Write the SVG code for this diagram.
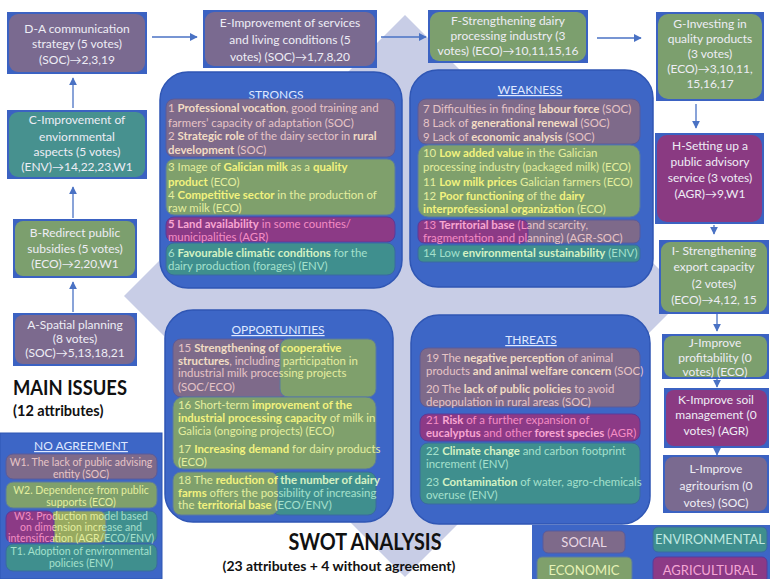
<svg xmlns="http://www.w3.org/2000/svg" width="770" height="579" viewBox="0 0 770 579">
<style>
.t{font-family:Lato,Carlito,"Liberation Sans",sans-serif;font-size:11.4px}
.s{font-size:10.5px}
.b{font-weight:bold}
.n{font-family:Lato,Carlito,"Liberation Sans",sans-serif;font-size:12px;text-anchor:middle;fill:#eeedf5}
.frame{fill:#3b62c2}
.soc{fill:#7e6a8a;stroke:#5a5a9a;stroke-width:1}
.eco{fill:#7fa06c;stroke:#5a7aa0;stroke-width:1}
.agr{fill:#8c3a86;stroke:#5a3a9a;stroke-width:1}
.env{fill:#3f8f8e;stroke:#3a6aa0;stroke-width:1}
.ts{fill:#e6c4c6}.ts .b{fill:#f2dcc4}
.te{fill:#e4ee9e}.te .b{fill:#f2f27e}
.ta{fill:#f48cc4}.ta .b{fill:#f8a6d2}
.tv{fill:#a4e0cc}.tv .b{fill:#d4f2c4}
.panel{fill:#3d66c6;stroke:#2f56b4;stroke-width:1.5}
.head{font-family:Lato,Carlito,"Liberation Sans",sans-serif;font-size:12px;fill:#dfe8ff;text-anchor:middle}
.u{text-decoration:underline}
.conn line{stroke:#4a72c4;stroke-width:1.3}
.leg{font-family:Lato,Carlito,"Liberation Sans",sans-serif;font-size:13px;text-anchor:middle}
.big{font-family:Lato,Carlito,"Liberation Sans",sans-serif;font-weight:bold;fill:#111}
</style>
<defs>
<marker id="ah" viewBox="0 0 10 10" refX="9" refY="5" markerWidth="6" markerHeight="6" orient="auto">
<path d="M0,0 L10,5 L0,10 z" fill="#4a72c4"/>
</marker>
<linearGradient id="g13" gradientUnits="userSpaceOnUse" x1="0" y1="0" x2="770" y2="0">
<stop offset="0.6857" stop-color="#f48cc4"/><stop offset="0.6857" stop-color="#e6c4c6"/>
</linearGradient>
<linearGradient id="g13b" gradientUnits="userSpaceOnUse" x1="0" y1="0" x2="770" y2="0">
<stop offset="0.6857" stop-color="#f8a6d2"/><stop offset="0.6857" stop-color="#f2dcc4"/>
</linearGradient>
<linearGradient id="g15" gradientUnits="userSpaceOnUse" x1="0" y1="0" x2="770" y2="0">
<stop offset="0.3636" stop-color="#e6c4c6"/><stop offset="0.3636" stop-color="#e4ee9e"/>
</linearGradient>
<linearGradient id="g15b" gradientUnits="userSpaceOnUse" x1="0" y1="0" x2="770" y2="0">
<stop offset="0.3636" stop-color="#f2dcc4"/><stop offset="0.3636" stop-color="#f2f27e"/>
</linearGradient>
<linearGradient id="g18" gradientUnits="userSpaceOnUse" x1="0" y1="0" x2="770" y2="0">
<stop offset="0.361" stop-color="#e4ee9e"/><stop offset="0.361" stop-color="#a4e0cc"/>
</linearGradient>
<linearGradient id="g18b" gradientUnits="userSpaceOnUse" x1="0" y1="0" x2="770" y2="0">
<stop offset="0.361" stop-color="#f2f27e"/><stop offset="0.361" stop-color="#d4f2c4"/>
</linearGradient>
<linearGradient id="gw3" gradientUnits="userSpaceOnUse" x1="0" y1="0" x2="770" y2="0">
<stop offset="0.0688" stop-color="#f48cc4"/><stop offset="0.0688" stop-color="#e4ee9e"/>
<stop offset="0.1338" stop-color="#e4ee9e"/><stop offset="0.1338" stop-color="#a4e0cc"/>
</linearGradient>
</defs>

<rect width="770" height="579" fill="#ffffff"/>
<polygon points="405,15 686,296 405,577 124,296" fill="#c8cde6"/>

<!-- SWOT panels -->
<g id="strongs">
<rect class="panel" x="160" y="72" width="242" height="216" rx="28"/>
<text class="head" x="276" y="99">STRONGS</text>
<rect class="soc" x="166" y="99" width="229" height="58" rx="8"/>
<rect class="eco" x="166" y="159" width="229" height="56" rx="8"/>
<rect class="agr" x="166" y="217" width="229" height="25" rx="8"/>
<rect class="env" x="166" y="243" width="229" height="32" rx="8"/>
<text class="t ts" x="168" y="112">1 <tspan class="b">Professional vocation</tspan>, good training and</text>
<text class="t ts" x="168" y="127">farmers’ capacity of adaptation (SOC)</text>
<text class="t ts" x="168" y="140">2 <tspan class="b">Strategic role</tspan> of the dairy sector in <tspan class="b">rural</tspan></text>
<text class="t ts" x="168" y="154"><tspan class="b">development</tspan> (SOC)</text>
<text class="t te" x="168" y="171">3 Image of <tspan class="b">Galician milk</tspan> as a <tspan class="b">quality</tspan></text>
<text class="t te" x="168" y="186"><tspan class="b">product</tspan> (ECO)</text>
<text class="t te" x="168" y="199">4 <tspan class="b">Competitive sector</tspan> in the production of</text>
<text class="t te" x="168" y="212">raw milk (ECO)</text>
<text class="t ta" x="168" y="228"><tspan class="b">5 Land availability</tspan> in some counties/</text>
<text class="t ta" x="168" y="241">municipalities (AGR)</text>
<text class="t tv" x="168" y="257">6 <tspan class="b">Favourable climatic conditions</tspan> for the</text>
<text class="t tv" x="168" y="270">dairy production (forages) (ENV)</text>
</g>

<g id="weakness">
<rect class="panel" x="410" y="70" width="243" height="217" rx="28"/>
<text class="head u" x="530" y="94">WEAKNESS</text>
<rect class="soc" x="418" y="99" width="222" height="45" rx="8"/>
<rect class="eco" x="418" y="145" width="222" height="72" rx="10"/>
<rect class="soc" x="500" y="220" width="140" height="23" rx="6"/>
<rect class="agr" x="418" y="220" width="110" height="23" rx="6"/>
<rect class="env" x="418" y="245" width="222" height="17" rx="5"/>
<text class="t ts" x="423" y="113">7 Difficulties in finding <tspan class="b">labour force</tspan> (SOC)</text>
<text class="t ts" x="423" y="127">8 Lack of <tspan class="b">generational renewal</tspan> (SOC)</text>
<text class="t ts" x="423" y="141">9 Lack of <tspan class="b">economic analysis</tspan> (SOC)</text>
<text class="t te" x="423" y="157">10 <tspan class="b">Low added value</tspan> in the Galician</text>
<text class="t te" x="423" y="171">processing industry (packaged milk) (ECO)</text>
<text class="t te" x="423" y="186">11 <tspan class="b">Low milk prices</tspan> Galician farmers (ECO)</text>
<text class="t te" x="423" y="200">12 <tspan class="b">Poor functioning</tspan> of the <tspan class="b">dairy</tspan></text>
<text class="t te" x="423" y="213"><tspan class="b">interprofessional organization</tspan> (ECO)</text>
<text class="t" x="423" y="229" fill="url(#g13)">13 <tspan class="b" fill="url(#g13b)">Territorial base</tspan> (Land scarcity,</text>
<text class="t" x="423" y="242" fill="url(#g13)">fragmentation and planning) (AGR-SOC)</text>
<text class="t tv" x="423" y="257">14 Low <tspan class="b">environmental sustainability</tspan> (ENV)</text>
</g>

<g id="opportunities">
<rect class="panel" x="165" y="310" width="228" height="212" rx="28"/>
<text class="head u" x="278" y="334">OPPORTUNITIES</text>
<rect class="soc" x="173" y="339" width="115" height="58" rx="8"/>
<rect class="eco" x="280" y="339" width="96" height="58" rx="8"/>
<rect class="eco" x="173" y="397" width="203" height="72" rx="10"/>
<rect class="env" x="272" y="472" width="104" height="43" rx="8"/>
<rect class="eco" x="173" y="472" width="105" height="43" rx="8"/>
<text class="t" x="178" y="352" fill="url(#g15)">15 <tspan class="b" fill="url(#g15b)">Strengthening of cooperative</tspan></text>
<text class="t" x="178" y="365" fill="url(#g15)"><tspan class="b" fill="url(#g15b)">structures</tspan>, including participation in</text>
<text class="t" x="178" y="377" fill="url(#g15)">industrial milk processing projects</text>
<text class="t" x="178" y="391" fill="url(#g15)">(SOC/ECO)</text>
<text class="t te" x="178" y="409">16 Short-term <tspan class="b">improvement of the</tspan></text>
<text class="t te" x="178" y="422"><tspan class="b">industrial processing capacity</tspan> of milk in</text>
<text class="t te" x="178" y="435">Galicia (ongoing projects) (ECO)</text>
<text class="t te" x="178" y="453">17 <tspan class="b">Increasing demand</tspan> for dairy products</text>
<text class="t te" x="178" y="466">(ECO)</text>
<text class="t" x="178" y="484" fill="url(#g18)">18 The <tspan class="b" fill="url(#g18b)">reduction of the number of dairy</tspan></text>
<text class="t" x="178" y="497" fill="url(#g18)"><tspan class="b" fill="url(#g18b)">farms</tspan> offers the possibility of increasing</text>
<text class="t" x="178" y="509" fill="url(#g18)">the <tspan class="b" fill="url(#g18b)">territorial base</tspan> (ECO/ENV)</text>
</g>

<g id="threats">
<rect class="panel" x="411" y="315" width="239" height="209" rx="28"/>
<text class="head u" x="531" y="344">THREATS</text>
<rect class="soc" x="420" y="348" width="220" height="59" rx="8"/>
<rect class="agr" x="420" y="414" width="220" height="27" rx="8"/>
<rect class="env" x="420" y="443" width="220" height="61" rx="8"/>
<text class="t ts" x="426" y="362">19 The <tspan class="b">negative perception</tspan> of animal</text>
<text class="t ts" x="426" y="375">products <tspan class="b">and animal welfare concern</tspan> (SOC)</text>
<text class="t ts" x="426" y="393">20 The <tspan class="b">lack of public policies</tspan> to avoid</text>
<text class="t ts" x="426" y="406">depopulation in rural areas (SOC)</text>
<text class="t ta" x="426" y="424">21  <tspan class="b">Risk</tspan> of a further expansion of</text>
<text class="t ta" x="426" y="437"><tspan class="b">eucalyptus</tspan> and other <tspan class="b">forest species</tspan> (AGR)</text>
<text class="t tv" x="426" y="455">22 <tspan class="b">Climate change</tspan> and carbon footprint</text>
<text class="t tv" x="426" y="468">increment (ENV)</text>
<text class="t tv" x="426" y="486">23 <tspan class="b">Contamination</tspan> of water, agro-chemicals</text>
<text class="t tv" x="426" y="499">overuse (ENV)</text>
</g>

<!-- Main issue nodes -->
<g id="nodeD">
<rect class="frame" x="7" y="12" width="140" height="62"/>
<rect x="9" y="14" width="136" height="58" rx="9" fill="#7a6a90"/>
<text class="n" x="77" y="33">D-A communication</text>
<text class="n" x="77" y="48">strategy (5 votes)</text>
<text class="n" x="77" y="64">(SOC)→2,3,19</text>
</g>
<g id="nodeC">
<rect class="frame" x="7" y="110" width="140" height="69"/>
<rect x="9" y="112" width="136" height="65" rx="9" fill="#47918f"/>
<text class="n" x="77" y="124">C-Improvement of</text>
<text class="n" x="77" y="141">enviornmental</text>
<text class="n" x="77" y="156">aspects (5 votes)</text>
<text class="n" x="77" y="171">(ENV)→14,22,23,W1</text>
</g>
<g id="nodeB">
<rect class="frame" x="13" y="219" width="124" height="59"/>
<rect x="15" y="221" width="120" height="55" rx="8" fill="#7c9f6e"/>
<text class="n" x="75" y="237">B-Redirect public</text>
<text class="n" x="75" y="253">subsidies (5 votes)</text>
<text class="n" x="75" y="268">(ECO)→2,20,W1</text>
</g>
<g id="nodeA">
<rect class="frame" x="13" y="313" width="124" height="53"/>
<rect x="15" y="315" width="120" height="49" rx="8" fill="#7c6a8e"/>
<text class="n" x="75" y="329">A-Spatial planning</text>
<text class="n" x="75" y="343">(8 votes)</text>
<text class="n" x="75" y="357">(SOC)→5,13,18,21</text>
</g>
<g id="nodeE">
<rect class="frame" x="203" y="10" width="174" height="58"/>
<rect x="205" y="12" width="170" height="54" rx="9" fill="#7a6a90"/>
<text class="n" x="290" y="27">E-Improvement of services</text>
<text class="n" x="290" y="44">and living  conditions (5</text>
<text class="n" x="290" y="61">votes) (SOC)→1,7,8,20</text>
</g>
<g id="nodeF">
<rect class="frame" x="428" y="10" width="160" height="53"/>
<rect x="430" y="12" width="156" height="49" rx="9" fill="#7c9f6e"/>
<text class="n" x="508" y="25">F-Strengthening dairy</text>
<text class="n" x="508" y="40">processing industry (3</text>
<text class="n" x="508" y="55">votes) (ECO)→10,11,15,16</text>
</g>
<g id="nodeG">
<rect class="frame" x="656" y="12" width="108" height="89"/>
<rect x="658" y="14" width="104" height="85" rx="10" fill="#7c9f6e"/>
<text class="n" x="710" y="28">G-Investing in</text>
<text class="n" x="710" y="43">quality products</text>
<text class="n" x="710" y="58">(3 votes)</text>
<text class="n" x="710" y="73">(ECO)→3,10,11,</text>
<text class="n" x="710" y="88">15,16,17</text>
</g>
<g id="nodeH">
<rect class="frame" x="655" y="133" width="109" height="91"/>
<rect x="657" y="135" width="105" height="87" rx="10" fill="#8a3a82"/>
<text class="n" x="710" y="150">H-Setting up a</text>
<text class="n" x="710" y="166">public advisory</text>
<text class="n" x="710" y="182">service (3 votes)</text>
<text class="n" x="710" y="198">(AGR)→9,W1</text>
</g>
<g id="nodeI">
<rect class="frame" x="659" y="240" width="110" height="74"/>
<rect x="661" y="242" width="106" height="70" rx="9" fill="#7c9f6e"/>
<text class="n" x="714" y="255">I- Strengthening</text>
<text class="n" x="714" y="271">export capacity</text>
<text class="n" x="714" y="288">(2 votes)</text>
<text class="n" x="714" y="304">(ECO)→4,12, 15</text>
</g>
<g id="nodeJ">
<rect class="frame" x="662" y="334" width="107" height="45"/>
<rect x="664" y="336" width="103" height="41" rx="8" fill="#7c9f6e"/>
<text class="n" x="715" y="347">J-Improve</text>
<text class="n" x="715" y="362">profitability  (0</text>
<text class="n" x="715" y="376">votes) (ECO)</text>
</g>
<g id="nodeK">
<rect class="frame" x="664" y="388" width="105" height="60"/>
<rect x="666" y="390" width="101" height="56" rx="8" fill="#8a3a82"/>
<text class="n" x="716" y="404">K-Improve soil</text>
<text class="n" x="716" y="419">management (0</text>
<text class="n" x="716" y="435">votes) (AGR)</text>
</g>
<g id="nodeL">
<rect class="frame" x="663" y="455" width="106" height="58"/>
<rect x="665" y="457" width="102" height="54" rx="8" fill="#7a6a90"/>
<text class="n" x="716" y="473">L-Improve</text>
<text class="n" x="716" y="490">agritourism (0</text>
<text class="n" x="716" y="507">votes) (SOC)</text>
</g>

<g id="connectors" class="conn">
<line x1="152" y1="37" x2="197" y2="37" marker-end="url(#ah)"/>
<line x1="381" y1="37" x2="426" y2="37" marker-end="url(#ah)"/>
<line x1="597" y1="38" x2="641" y2="38" marker-end="url(#ah)"/>
<line x1="696" y1="104" x2="696" y2="128" marker-end="url(#ah)"/>
<line x1="714" y1="225" x2="714" y2="234" marker-end="url(#ah)"/>
<line x1="717" y1="314" x2="717" y2="331" marker-end="url(#ah)"/>
<line x1="717" y1="379" x2="717" y2="387" marker-end="url(#ah)"/>
<line x1="717" y1="448" x2="717" y2="455" marker-end="url(#ah)"/>
<line x1="73" y1="108" x2="73" y2="78" marker-end="url(#ah)"/>
<line x1="73" y1="218" x2="73" y2="187" marker-end="url(#ah)"/>
<line x1="73" y1="312" x2="73" y2="282" marker-end="url(#ah)"/>
</g>

<g id="main-issues">
<text class="big" x="13" y="395" font-size="20" textLength="114" lengthAdjust="spacingAndGlyphs">MAIN ISSUES</text>
<text class="big" x="13" y="416" font-size="14.5">(12 attributes)</text>
</g>

<g id="no-agreement">
<rect x="0" y="433" width="162" height="146" fill="#3d66c6" stroke="#2f56b4"/>
<text class="head u" x="81" y="450">NO AGREEMENT</text>
<rect class="soc" x="6" y="454" width="151" height="25" rx="7"/>
<rect class="eco" x="6" y="482" width="151" height="26" rx="7"/>
<rect class="env" x="100" y="511" width="57" height="32" rx="7"/>
<rect x="50" y="511" width="56" height="32" rx="7" fill="#98aa60" stroke="#5a7aa0"/>
<rect class="agr" x="6" y="511" width="48" height="32" rx="7"/>
<rect class="env" x="6" y="544" width="151" height="27" rx="7"/>
<text class="t s ts" x="81" y="466" text-anchor="middle">W1. The lack of public advising</text>
<text class="t s ts" x="81" y="478" text-anchor="middle">entity (SOC)</text>
<text class="t s te" x="81" y="494" text-anchor="middle">W2. Dependence from public</text>
<text class="t s te" x="81" y="506" text-anchor="middle">supports (ECO)</text>
<text class="t s" x="81" y="520" text-anchor="middle" fill="url(#gw3)">W3. Production model based</text>
<text class="t s" x="81" y="531" text-anchor="middle" fill="url(#gw3)">on dimension increase and</text>
<text class="t s" x="81" y="542" text-anchor="middle" fill="url(#gw3)">intensification (AGR/ECO/ENV)</text>
<text class="t s tv" x="81" y="555" text-anchor="middle">T1. Adoption of environmental</text>
<text class="t s tv" x="81" y="567" text-anchor="middle">policies (ENV)</text>
</g>

<g id="swot-title">
<text class="big" x="365" y="550" text-anchor="middle" font-size="22" textLength="153" lengthAdjust="spacingAndGlyphs">SWOT ANALYSIS</text>
<text class="big" x="339" y="571" text-anchor="middle" font-size="14">(23 attributes + 4 without agreement)</text>
</g>

<g id="legend">
<rect x="532" y="525" width="238" height="54" fill="#3d66c6"/>
<rect class="soc" x="543" y="531" width="82" height="22" rx="5"/>
<rect class="env" x="653" y="527" width="114" height="25" rx="5"/>
<rect class="eco" x="537" y="557" width="95" height="26" rx="5"/>
<rect class="agr" x="653" y="557" width="114" height="26" rx="5"/>
<text class="leg" x="584" y="547" fill="#ead8e4">SOCIAL</text>
<text class="leg" x="710" y="544" fill="#bfe8e0">ENVIRONMENTAL</text>
<text class="leg" x="584" y="575" fill="#e6f2b6">ECONOMIC</text>
<text class="leg" x="710" y="575" fill="#f4a6d4">AGRICULTURAL</text>
</g>
</svg>
